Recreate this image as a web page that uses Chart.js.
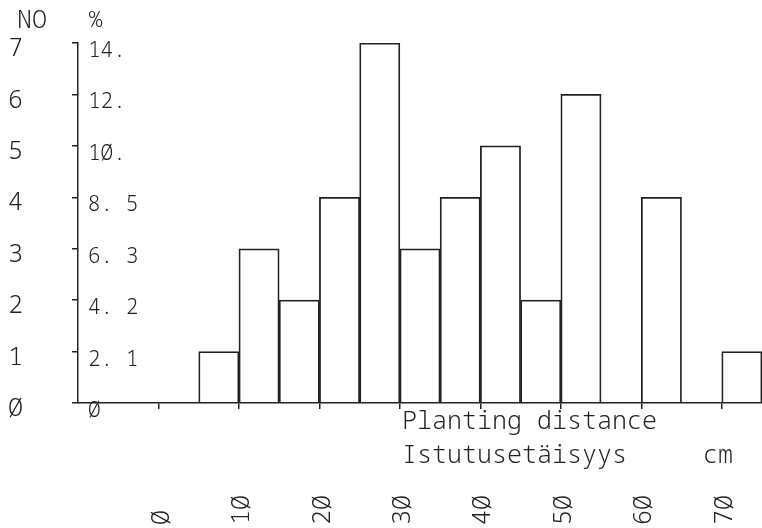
<!DOCTYPE html>
<html><head><meta charset="utf-8">
<script src="https://cdn.jsdelivr.net/npm/chart.js@4.4.1/dist/chart.umd.min.js"></script>
<style>html,body{margin:0;padding:0;background:#fff;overflow:hidden}</style>
</head><body>
<canvas id="c" width="762" height="528"></canvas>
<script>
// ---- data ----
const binCenters = [7.5, 12.5, 17.5, 22.5, 27.5, 32.5, 37.5, 42.5, 47.5, 52.5, 57.5, 62.5, 67.5, 72.5];
const counts     = [1,   3,    2,    4,    7,    3,    4,    5,    2,    6,    0,    4,    0,    1];
const noTickLabels  = ['Ø', '1', '2', '3', '4', '5', '6', '7'];
const pctTickLabels = ['Ø', '2. 1', '4. 2', '6. 3', '8. 5', '1Ø.', '12.', '14.'];
const xTickValues = [0, 10, 20, 30, 40, 50, 60, 70];
const xTickLabels = ['Ø ', '1Ø', '2Ø', '3Ø', '4Ø', '5Ø', '6Ø', '7Ø'];
const headNo = 'NO';
const headPct = '%';
const titleLine1 = 'Planting distance';
const titleLine2 = 'Istutusetäisyys';
const unitLabel = 'cm';

const FONT = '"Noto Sans Mono", "DejaVu Sans Mono", "Liberation Mono", monospace';
const WEIGHT = 300;
const INK = '#222222';
const TXT = '#222222';

const textPlugin = {
  id: 'plotterText',
  afterDraw(chart) {
    const c = chart.ctx;
    c.save();
    c.fillStyle = TXT;
    c.textAlign = 'left';
    c.textBaseline = 'alphabetic';
    c.font = WEIGHT + ' 25px ' + FONT;
    c.fillText(headNo, 17, 28);
    c.font = WEIGHT + ' 22px ' + FONT;
    c.fillText(headPct, 89, 27);
    c.font = WEIGHT + ' 25px ' + FONT;
    c.fillText(titleLine1, 402, 429);
    c.fillText(titleLine2, 402, 463);
    c.fillText(unitLabel, 703, 463);
    c.restore();
  }
};

new Chart(document.getElementById('c'), {
  type: 'bar',
  data: {
    datasets: [{
      data: binCenters.map((x, i) => ({ x: x, y: counts[i] })),
      backgroundColor: 'rgba(255,255,255,0)',
      borderColor: INK,
      borderWidth: 1.1,
      barPercentage: 1,
      categoryPercentage: 1,
      xAxisID: 'x',
      yAxisID: 'yNo'
    }]
  },
  plugins: [textPlugin],
  options: {
    responsive: false,
    animation: false,
    devicePixelRatio: 1,
    layout: { padding: { left: 8, top: 43, right: 0, bottom: 0 } },
    plugins: { legend: { display: false }, tooltip: { enabled: false } },
    scales: {
      x: {
        type: 'linear', position: 'bottom', min: -10, max: 75, offset: false,
        afterBuildTicks: s => { s.ticks = xTickValues.map(v => ({ value: v })); },
        afterFit: s => { s.height = 125; s.paddingLeft = 0; s.paddingRight = 0; },
        grid: { drawOnChartArea: false, offset: false, tickLength: 6, color: INK, lineWidth: 1.5 },
        border: { display: true, color: INK, width: 1.5 },
        ticks: {
          minRotation: 90, maxRotation: 90, autoSkip: false, padding: 86, labelOffset: 3,
          font: { family: FONT, size: 25, weight: WEIGHT }, color: TXT,
          callback: (v, i) => xTickLabels[i]
        }
      },
      yNo: {
        type: 'linear', position: 'left', weight: 1, min: 0, max: 7,
        afterBuildTicks: s => { s.ticks = noTickLabels.map((_, i) => ({ value: i })); },
        afterFit: s => { s.width = 64; },
        grid: { display: false },
        border: { display: false },
        ticks: {
          crossAlign: 'far', labelOffset: 6, font: { family: FONT, size: 25, weight: WEIGHT }, color: TXT,
          callback: (v, i) => noTickLabels[i]
        }
      },
      yPct: {
        type: 'linear', position: 'left', weight: 0, min: 0, max: 7,
        afterBuildTicks: s => { s.ticks = pctTickLabels.map((_, i) => ({ value: i })); },
        afterFit: s => { s.width = 6; },
        grid: { drawOnChartArea: false, tickLength: 6, color: INK, lineWidth: 1.5 },
        border: { display: true, color: INK, width: 1.5 },
        ticks: {
          mirror: true, padding: 10, crossAlign: 'near', labelOffset: 8,
          font: { family: FONT, size: 21, weight: WEIGHT }, color: TXT,
          callback: (v, i) => pctTickLabels[i]
        }
      }
    }
  }
});
</script>
</body></html>
